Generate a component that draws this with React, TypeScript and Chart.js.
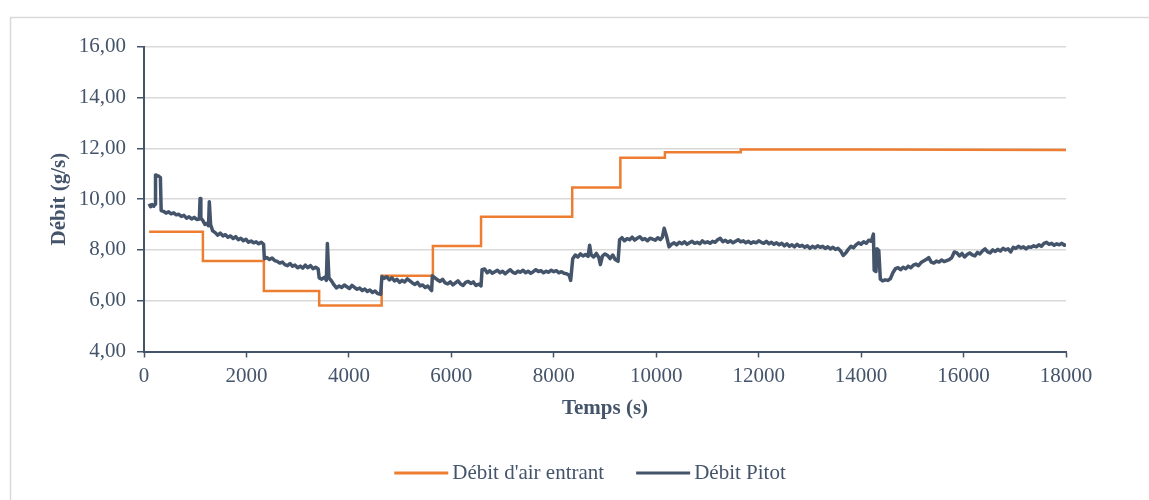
import React, { useEffect, useRef } from "react";
import { Chart, registerables } from "chart.js";

Chart.register(...registerables);

// ---------- DATA ----------
const seriesLabels = ["Débit d'air entrant", "Débit Pitot"];

const airTimes = [100, 1150, 1150, 2340, 2340, 3420, 3420, 4640, 4640, 5640, 5640, 6580, 6580, 8360, 8360, 9300, 9300, 10170, 10170, 11650, 11650, 14000, 18000];
const airValues = [8.71, 8.71, 7.56, 7.56, 6.38, 6.38, 5.81, 5.81, 6.98, 6.98, 8.15, 8.15, 9.31, 9.31, 10.46, 10.46, 11.63, 11.63, 11.84, 11.84, 11.95, 11.95, 11.93];

const pitotTimes = [
  100, 130, 160, 190, 215, 225, 260, 290, 320, 335,
  380, 430, 480, 530, 580, 630, 680, 730, 780, 830, 880, 930, 980, 1030, 1080,
  1095, 1110, 1150, 1190, 1230, 1260, 1275, 1300, 1340,
  1390, 1440, 1490, 1540, 1590, 1640, 1690, 1740, 1790, 1840, 1890, 1940, 1990, 2040, 2090, 2140, 2190, 2240, 2290, 2335,
  2350, 2400, 2450, 2500, 2550, 2600, 2650, 2700, 2750, 2800, 2850, 2900, 2950, 3000, 3050, 3100, 3150, 3200, 3250, 3300, 3350, 3400,
  3420, 3470, 3520, 3560, 3580, 3610, 3660, 3710,
  3760, 3810, 3860, 3910, 3960, 4010, 4060, 4110, 4160, 4210, 4260, 4310, 4360, 4410, 4460, 4510, 4560, 4620,
  4645, 4690, 4740, 4790, 4840, 4890, 4940, 4990, 5040, 5090, 5140, 5190, 5240, 5290, 5340, 5390, 5440, 5490, 5540, 5590, 5615,
  5630, 5680, 5730, 5780, 5830, 5880, 5930, 5980, 6030, 6080, 6130, 6180, 6230, 6280, 6330, 6380, 6430, 6480, 6540, 6580,
  6600, 6650, 6700, 6750, 6800, 6850, 6900, 6950, 7000, 7050, 7100, 7150, 7200, 7250, 7300, 7350, 7400, 7450, 7500, 7550, 7600, 7650, 7700, 7750, 7800, 7850, 7900, 7950, 8000, 8050, 8100, 8150, 8200, 8250, 8300, 8330,
  8370, 8420, 8470, 8520, 8570, 8620, 8670, 8700, 8730, 8780, 8830, 8880, 8910, 8950, 9000, 9050, 9100, 9150, 9200, 9255,
  9285, 9330, 9380, 9430, 9480, 9530, 9580, 9630, 9680, 9730, 9780, 9830, 9880, 9930, 9980, 10030, 10080, 10120, 10155, 10200, 10250,
  10300, 10350, 10400, 10450, 10500, 10550, 10600, 10650, 10700, 10750, 10800, 10850, 10900, 10950, 11000, 11050, 11100, 11150, 11200, 11250,
  11300, 11350, 11400, 11450, 11500, 11550, 11600, 11650, 11700, 11750, 11800, 11850, 11900, 11950, 12000, 12050, 12100, 12150, 12200, 12250,
  12300, 12350, 12400, 12450, 12500, 12550, 12600, 12650, 12700, 12750, 12800, 12850, 12900, 12950, 13000, 13050, 13100, 13150, 13200, 13250,
  13300, 13350, 13400, 13450, 13500, 13550, 13600, 13650, 13700, 13750, 13800, 13850, 13900, 13950, 14000, 14050, 14100, 14150, 14200, 14240,
  14255, 14290, 14310, 14345, 14375, 14420, 14470, 14520, 14570,
  14620, 14670, 14720, 14770, 14820, 14870, 14920, 14970, 15020, 15070, 15120, 15170, 15220, 15270, 15320, 15370, 15420, 15470, 15520, 15570,
  15620, 15670, 15720, 15770, 15820, 15870, 15920, 15970, 16020, 16070, 16120, 16170, 16220, 16270, 16320, 16370, 16420, 16470, 16520, 16570,
  16620, 16670, 16720, 16770, 16820, 16870, 16920, 16970, 17020, 17070, 17120, 17170, 17220, 17270, 17320, 17370, 17420, 17470, 17520, 17570,
  17620, 17670, 17720, 17770, 17820, 17870, 17920, 17970, 18000,
];

const pitotValues = [
  9.82, 9.70, 9.78, 9.72, 9.80, 10.95, 10.92, 10.90, 10.85, 9.55,
  9.52, 9.45, 9.50, 9.42, 9.46, 9.38, 9.40, 9.32, 9.36, 9.25, 9.30, 9.22, 9.28, 9.20, 9.22,
  10.02, 9.25, 9.15, 9.00, 9.05, 8.95, 9.90, 9.00, 8.75,
  8.68, 8.58, 8.66, 8.55, 8.60, 8.50, 8.55, 8.45, 8.52, 8.40, 8.46, 8.36, 8.42, 8.30, 8.35, 8.28, 8.32, 8.24, 8.30, 8.22,
  7.65, 7.70, 7.62, 7.68, 7.58, 7.55, 7.48, 7.52, 7.42, 7.38, 7.46, 7.36, 7.40, 7.30, 7.36, 7.28, 7.40, 7.30, 7.38, 7.26, 7.32, 7.25,
  6.90, 6.85, 6.92, 6.80, 8.25, 6.90, 6.78, 6.62,
  6.50, 6.58, 6.52, 6.62, 6.55, 6.48, 6.60, 6.52, 6.45, 6.50, 6.40, 6.46, 6.36, 6.42, 6.32, 6.38, 6.28, 6.25,
  6.95, 6.88, 6.94, 6.82, 6.90, 6.78, 6.84, 6.72, 6.80, 6.74, 6.86, 6.78, 6.70, 6.64, 6.72, 6.58, 6.62, 6.52, 6.58, 6.45, 6.40,
  6.98, 6.90, 6.82, 6.76, 6.84, 6.70, 6.66, 6.74, 6.62, 6.70, 6.78, 6.66, 6.60, 6.72, 6.76, 6.68, 6.74, 6.60, 6.65, 6.58,
  7.22, 7.25, 7.10, 7.18, 7.08, 7.14, 7.20, 7.10, 7.16, 7.06, 7.14, 7.22, 7.12, 7.08, 7.16, 7.12, 7.20, 7.10, 7.16, 7.08, 7.14, 7.22, 7.15, 7.18, 7.10, 7.16, 7.12, 7.20, 7.14, 7.18, 7.10, 7.14, 7.08, 7.06, 7.00, 6.80,
  7.65, 7.80, 7.72, 7.84, 7.76, 7.82, 7.74, 8.18, 7.80, 7.72, 7.86, 7.70, 7.42, 7.76, 7.84, 7.78, 7.66, 7.80, 7.62, 7.55,
  8.40, 8.48, 8.36, 8.44, 8.40, 8.50, 8.38, 8.46, 8.52, 8.40, 8.44, 8.36, 8.46, 8.42, 8.38, 8.48, 8.40, 8.50, 8.85, 8.55, 8.12,
  8.22, 8.28, 8.20, 8.30, 8.24, 8.32, 8.22, 8.28, 8.34, 8.26, 8.30, 8.24, 8.36, 8.28, 8.32, 8.26, 8.34, 8.30, 8.40, 8.46,
  8.32, 8.38, 8.30, 8.36, 8.28, 8.34, 8.40, 8.32, 8.36, 8.28, 8.34, 8.26, 8.32, 8.28, 8.36, 8.30, 8.26, 8.34, 8.24, 8.30,
  8.22, 8.28, 8.20, 8.26, 8.16, 8.24, 8.14, 8.20, 8.12, 8.22, 8.14, 8.18, 8.10, 8.16, 8.06, 8.14, 8.08, 8.16, 8.10, 8.14,
  8.06, 8.12, 8.04, 8.10, 8.02, 8.06, 7.96, 7.78, 7.88, 8.02, 8.14, 8.08, 8.20, 8.28, 8.22, 8.32, 8.26, 8.38, 8.34, 8.62,
  7.20, 7.15, 8.05, 7.98, 6.85, 6.78, 6.82, 6.80, 6.86,
  7.10, 7.26, 7.30, 7.22, 7.32, 7.26, 7.36, 7.30, 7.40, 7.44, 7.38, 7.50, 7.56, 7.62, 7.70, 7.52, 7.48, 7.56, 7.52, 7.60,
  7.54, 7.58, 7.62, 7.70, 7.92, 7.88, 7.76, 7.86, 7.72, 7.82, 7.88, 7.80, 7.76, 7.90, 7.84, 7.96, 8.04, 7.92, 7.88, 8.00,
  7.94, 8.02, 7.96, 8.06, 8.00, 8.04, 7.92, 8.10, 8.06, 8.14, 8.08, 8.12, 8.04, 8.12, 8.10, 8.16, 8.12, 8.20, 8.14, 8.26,
  8.30, 8.22, 8.26, 8.18, 8.24, 8.20, 8.26, 8.18, 8.22,
];

const xMin = 0;
const xMax = 18000;
const xStep = 2000;
const yMin = 4;
const yMax = 16;
const yStep = 2;
const xTitle = "Temps (s)";
const yTitle = "Débit (g/s)";

// ---------- STYLE ----------
const FONT = '"Liberation Serif", "Times New Roman", serif';
const TEXT = "#44546A";
const ORANGE = "#ED7D31";
const DARK = "#44546A";
const GRID = "#D9D9D9";

const framePlugin = {
  id: "frame",
  beforeDraw(chart: any) {
    const ctx = chart.ctx;
    ctx.save();
    ctx.fillStyle = "#ffffff";
    ctx.fillRect(0, 0, chart.width, chart.height);
    ctx.strokeStyle = GRID;
    ctx.lineWidth = 1.5;
    ctx.strokeRect(10.5, 17.5, 1200, 600);
    ctx.restore();
  },
};

const legendPlugin = {
  id: "lineLegend",
  afterDraw(chart: any) {
    const ctx = chart.ctx;
    ctx.save();
    ctx.font = `21px ${FONT}`;
    const items = chart.data.datasets.map((ds: any) => ({ text: ds.label, color: ds.borderColor }));
    const lineW = 54;
    const gapText = 4;
    const gapItem = 32;
    const widths = items.map((it: any) => lineW + gapText + ctx.measureText(it.text).width);
    const total = widths.reduce((a: number, b: number) => a + b, 0) + gapItem * (items.length - 1);
    let x = 590 - total / 2;
    const y = 473;
    items.forEach((it: any, i: number) => {
      ctx.strokeStyle = it.color;
      ctx.lineWidth = 3;
      ctx.beginPath();
      ctx.moveTo(x, y);
      ctx.lineTo(x + lineW, y);
      ctx.stroke();
      ctx.fillStyle = TEXT;
      ctx.textAlign = "left";
      ctx.textBaseline = "middle";
      ctx.fillText(it.text, x + lineW + gapText, y);
      x += widths[i] + gapItem;
    });
    ctx.restore();
  },
};

export default function App() {
  const canvasRef = useRef<HTMLCanvasElement | null>(null);

  useEffect(() => {
    if (!canvasRef.current) return;
    const chart = new Chart(canvasRef.current, {
      type: "line",
      data: {
        datasets: [
          {
            label: seriesLabels[0],
            data: airTimes.map((t, i) => ({ x: t, y: airValues[i] })),
            borderColor: ORANGE,
            backgroundColor: ORANGE,
            borderWidth: 2.5,
            pointRadius: 0,
            tension: 0,
            order: 1,
          },
          {
            label: seriesLabels[1],
            data: pitotTimes.map((t, i) => ({ x: t, y: pitotValues[i] })),
            borderColor: DARK,
            backgroundColor: DARK,
            borderWidth: 3.5,
            pointRadius: 0,
            tension: 0,
            borderJoinStyle: "round",
            order: 0,
          },
        ],
      },
      options: {
        responsive: false,
        animation: false,
        events: [],
        layout: { padding: { left: 0, top: 46.7, right: 83, bottom: 0 } },
        plugins: {
          legend: { display: false },
          tooltip: { enabled: false },
        },
        scales: {
          x: {
            type: "linear",
            min: xMin,
            max: xMax,
            ticks: {
              stepSize: xStep,
              color: TEXT,
              font: { family: FONT, size: 21 },
              padding: 6,
              maxRotation: 0,
              autoSkip: false,
              callback: (v: any) => String(v),
            },
            grid: {
              drawOnChartArea: false,
              drawTicks: true,
              tickLength: 6,
              tickColor: TEXT,
              tickWidth: 1.5,
            },
            border: { color: TEXT, width: 2 },
            title: {
              display: true,
              text: xTitle,
              color: TEXT,
              font: { family: FONT, size: 21, weight: "bold" },
              padding: { top: 0, bottom: 79 },
            },
            afterFit: (s: any) => {
              s.height = 148.5;
            },
          },
          y: {
            min: yMin,
            max: yMax,
            ticks: {
              stepSize: yStep,
              color: TEXT,
              font: { family: FONT, size: 21 },
              padding: 11,
              callback: (v: any) => Number(v).toFixed(2).replace(".", ","),
            },
            grid: {
              color: (c: any) => (c.tick && c.tick.value === yMin ? "rgba(0,0,0,0)" : GRID),
              lineWidth: 1.5,
              drawTicks: true,
              tickLength: 7,
              tickColor: TEXT,
              tickWidth: 1.5,
            },
            border: { color: TEXT, width: 2 },
            title: {
              display: true,
              text: yTitle,
              color: TEXT,
              font: { family: FONT, size: 21, weight: "bold" },
              padding: { top: 47, bottom: 0 },
            },
            afterFit: (s: any) => {
              s.width = 144;
            },
          },
        },
      } as any,
      plugins: [framePlugin, legendPlugin],
    });
    return () => chart.destroy();
  }, []);

  return (
    <div style={{ position: "absolute", left: 0, top: 0, width: 1149, height: 500, overflow: "hidden" }}>
      <canvas ref={canvasRef} width={1149} height={500} style={{ display: "block" }} />
    </div>
  );
}
